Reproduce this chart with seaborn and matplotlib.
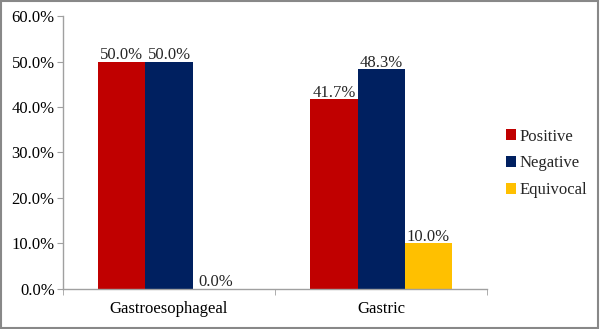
import pandas as pd
import seaborn as sns
from matplotlib import pyplot as plt
from matplotlib.patches import Rectangle
from matplotlib.ticker import FixedLocator, PercentFormatter

categories = ['Gastroesophageal', 'Gastric']
results = ['Positive', 'Negative', 'Equivocal']
positive = [50.0, 41.7]
negative = [50.0, 48.3]
equivocal = [0.0, 10.0]
colors = ['#C00000', '#002060', '#FFC000']

rows = []
for name, vals in zip(results, [positive, negative, equivocal]):
    for cat, v in zip(categories, vals):
        rows.append({'site': cat, 'result': name, 'pct': v})
df = pd.DataFrame(rows)

sns.set_style('white')
plt.rcParams['font.family'] = ['Liberation Serif', 'DejaVu Serif']

fig = plt.figure(figsize=(6.0, 3.29), dpi=100)
ax = fig.add_axes([0.105, 0.122, 0.707, 0.829])

sns.barplot(data=df, x='site', y='pct', hue='result', palette=colors,
            width=0.667, saturation=1, ax=ax, errorbar=None, linewidth=0)

for c in ax.containers:
    ax.bar_label(c, fmt='%.1f%%', fontsize=12, padding=-1)

ax.set_ylim(0, 60)
ax.set_xlim(-0.5, 1.5)
ax.set_yticks(range(0, 61, 10))
ax.yaxis.set_major_formatter(PercentFormatter(decimals=1))
ax.set_xlabel('')
ax.set_ylabel('')
ax.tick_params(axis='both', labelsize=12, colors='black')
ax.tick_params(axis='y', length=4, color='#A0A0A0', left=True, pad=2)
ax.xaxis.set_minor_locator(FixedLocator([-0.5, 0.5, 1.5]))
ax.tick_params(axis='x', which='major', length=0, pad=9)
ax.tick_params(axis='x', which='minor', length=4, color='#A0A0A0', bottom=True)

for s in ['top', 'right']:
    ax.spines[s].set_visible(False)
for s in ['left', 'bottom']:
    ax.spines[s].set_color('#A0A0A0')
    ax.spines[s].set_linewidth(1)

ax.legend(loc='center left', bbox_to_anchor=(1.01, 0.46), frameon=False,
          fontsize=12, handlelength=0.6, handleheight=0.6, handletextpad=0.2,
          labelspacing=0.65)

fig.patches.append(Rectangle((0.002, 0.003), 0.995, 0.994, transform=fig.transFigure,
                             fill=False, edgecolor='#888888', linewidth=1.5))

plt.savefig('out.png', dpi=100)
